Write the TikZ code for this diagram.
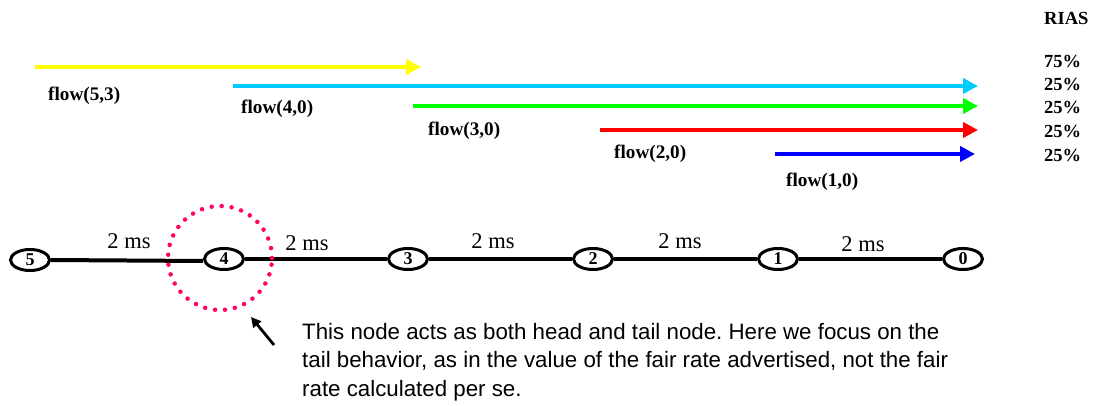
\documentclass[tikz,border=0pt]{standalone}
\usepackage{fontspec}
\setmainfont{Liberation Serif}
\newfontfamily\arialfont{Liberation Sans}
\usetikzlibrary{arrows.meta,shapes.geometric}
\frenchspacing
\definecolor{flowyellow}{RGB}{255,255,0}
\definecolor{flowcyan}{RGB}{0,204,255}
\definecolor{flowgreen}{RGB}{0,255,0}
\definecolor{flowred}{RGB}{255,0,0}
\definecolor{flowblue}{RGB}{0,0,255}
\definecolor{ringpink}{RGB}{255,0,102}
\tikzset{
  flowarrow/.style={line width=4.5pt,-{Triangle[length=15pt,width=15pt]}},
  flowlabel/.style={font=\fontsize{19.2}{20}\selectfont\bfseries,inner sep=0pt},
  rias/.style={font=\fontsize{18.5}{20}\selectfont\bfseries,anchor=west,inner sep=0pt},
  netnode/.style={ellipse,draw,line width=3pt,minimum width=39pt,minimum height=21pt,inner sep=0pt,font=\fontsize{18}{18}\selectfont\bfseries},
  link/.style={line width=4pt},
  delay/.style={font=\fontsize{22.5}{22}\selectfont,inner sep=0pt}
}
\begin{document}
\begin{tikzpicture}[x=1pt,y=-1pt]
\useasboundingbox (0,0) rectangle (1094,406);

% flows and their end points
\coordinate (y0) at (35,67);   \coordinate (y1) at (421,67);
\coordinate (c0) at (233,86);  \coordinate (c1) at (978,86);
\coordinate (g0) at (413,106); \coordinate (g1) at (978,106);
\coordinate (r0) at (600,130); \coordinate (r1) at (978,130);
\coordinate (b0) at (775,154); \coordinate (b1) at (975,154);

\draw[flowarrow,flowyellow] (y0) -- (y1);
\draw[flowarrow,flowcyan]   (c0) -- (c1);
\draw[flowarrow,flowgreen]  (g0) -- (g1);
\draw[flowarrow,flowred]    (r0) -- (r1);
\draw[flowarrow,flowblue]   (b0) -- (b1);

\node[flowlabel,anchor=west] (l53) at (48,96)  {flow(5,3)};
\node[flowlabel,anchor=west] (l40) at (241,109) {flow(4,0)};
\node[flowlabel,anchor=west] (l30) at (428,131) {flow(3,0)};
\node[flowlabel,anchor=west] (l20) at (614,154) {flow(2,0)};
\node[flowlabel,anchor=west] (l10) at (786,182) {flow(1,0)};

% advertised rates
\node[rias] (rh) at (1044,18)  {RIAS};
\node[rias] (p5) at (1044,61)  {75\%};
\node[rias] (p4) at (1044,84)  {25\%};
\node[rias] (p3) at (1044,107) {25\%};
\node[rias] (p2) at (1044,131) {25\%};
\node[rias] (p1) at (1044,155) {25\%};

% chain of nodes
\node[netnode] (n5) at (30,260)  {5};
\node[netnode] (n4) at (224,259) {4};
\node[netnode] (n3) at (408,259) {3};
\node[netnode] (n2) at (593,259) {2};
\node[netnode] (n1) at (778,259) {1};
\node[netnode] (n0) at (963,259) {0};

\draw[link] (n5.east) -- ([yshift=-2pt]n4.west);
\draw[link] (n4) -- (n3);
\draw[link] (n3) -- (n2);
\draw[link] (n2) -- (n1);
\draw[link] (n1) -- (n0);

\node[delay] (d54) at (129,241) {2 ms};
\node[delay] (d43) at (307,243) {2 ms};
\node[delay] (d32) at (493,241) {2 ms};
\node[delay] (d21) at (680,241) {2 ms};
\node[delay] (d10) at (863,244) {2 ms};

% highlighted node
\node[circle,draw=ringpink,line width=4.5pt,dash pattern=on 0pt off 10pt,line cap=round,minimum size=104pt,inner sep=0pt] (ring) at (220,258) {};

\coordinate (tail) at (274,345);
\coordinate (tip) at (251,317);
\draw[line width=2.8pt,-{Triangle[length=10pt,width=10pt]}] (tail) -- (tip);

\node[anchor=north west,inner sep=0pt,align=left,font=\arialfont\fontsize{22.3}{28.5}\selectfont] (note) at (302,323)
{This node acts as both head and tail node. Here we focus on the\\
tail behavior, as in the value of the fair rate advertised, not the fair\\
rate calculated per se.};
\end{tikzpicture}
\end{document}
